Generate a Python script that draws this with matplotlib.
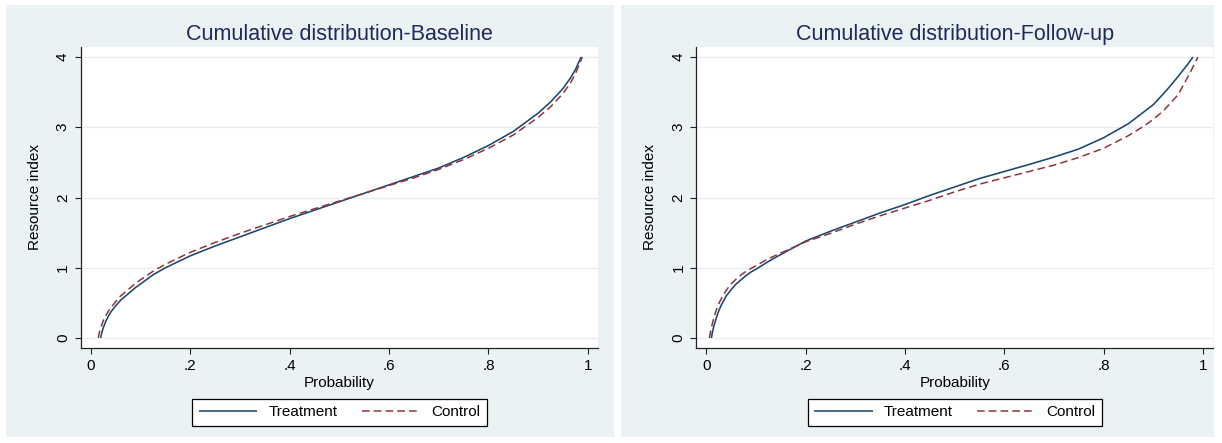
import matplotlib
matplotlib.use("Agg")
import matplotlib.pyplot as plt
from matplotlib.patches import Rectangle

# ---------------- data ----------------
titles = ["Cumulative distribution-Baseline", "Cumulative distribution-Follow-up"]
series_names = ["Treatment", "Control"]
x_label = "Probability"
y_label = "Resource index"
x_ticks = [0, 0.2, 0.4, 0.6, 0.8, 1.0]
x_tick_labels = ["0", ".2", ".4", ".6", ".8", "1"]
y_ticks = [0, 1, 2, 3, 4]
y_tick_labels = ["0", "1", "2", "3", "4"]

# Baseline - Treatment
base_treat_p = [0.0195, 0.022, 0.025, 0.03, 0.035, 0.04, 0.05, 0.06, 0.07, 0.08, 0.09, 0.10,
                0.125, 0.15, 0.2, 0.25, 0.3, 0.35, 0.4, 0.45, 0.5, 0.55, 0.6, 0.65, 0.7,
                0.75, 0.8, 0.85, 0.9, 0.925, 0.95, 0.965, 0.975, 0.9866]
base_treat_y = [0.0, 0.08, 0.15, 0.24, 0.31, 0.37, 0.46, 0.54, 0.60, 0.66, 0.72, 0.77,
                0.90, 1.00, 1.17, 1.31, 1.44, 1.57, 1.70, 1.82, 1.94, 2.06, 2.18, 2.30, 2.42,
                2.57, 2.74, 2.94, 3.20, 3.36, 3.55, 3.70, 3.82, 4.0]
# Baseline - Control
base_ctrl_p = [0.0148, 0.017, 0.02, 0.025, 0.03, 0.035, 0.04, 0.05, 0.06, 0.07, 0.08, 0.09,
               0.10, 0.125, 0.15, 0.2, 0.25, 0.3, 0.35, 0.4, 0.45, 0.5, 0.55, 0.6, 0.65,
               0.7, 0.75, 0.8, 0.85, 0.9, 0.925, 0.95, 0.965, 0.975, 0.989]
base_ctrl_y = [0.0, 0.08, 0.15, 0.25, 0.32, 0.38, 0.43, 0.52, 0.60, 0.66, 0.72, 0.78,
               0.83, 0.95, 1.05, 1.22, 1.36, 1.49, 1.61, 1.73, 1.84, 1.95, 2.06, 2.17, 2.28,
               2.40, 2.54, 2.70, 2.89, 3.14, 3.29, 3.48, 3.63, 3.76, 4.0]
# Follow-up - Treatment
fu_treat_p = [0.010, 0.012, 0.015, 0.02, 0.025, 0.03, 0.04, 0.05, 0.06, 0.07, 0.08, 0.09,
              0.10, 0.125, 0.15, 0.2, 0.25, 0.3, 0.35, 0.4, 0.45, 0.5, 0.55, 0.6, 0.65,
              0.7, 0.75, 0.8, 0.85, 0.9, 0.925, 0.95, 0.96, 0.97, 0.98]
fu_treat_y = [0.0, 0.08, 0.17, 0.29, 0.39, 0.47, 0.60, 0.69, 0.77, 0.83, 0.89, 0.94,
              0.98, 1.09, 1.19, 1.38, 1.52, 1.65, 1.78, 1.90, 2.03, 2.15, 2.27, 2.37, 2.47,
              2.575, 2.69, 2.85, 3.05, 3.32, 3.51, 3.72, 3.81, 3.90, 4.0]
# Follow-up - Control
fu_ctrl_p = [0.006, 0.008, 0.01, 0.015, 0.02, 0.025, 0.03, 0.04, 0.05, 0.06, 0.07, 0.08,
             0.09, 0.10, 0.125, 0.15, 0.2, 0.25, 0.3, 0.35, 0.4, 0.45, 0.5, 0.55, 0.6,
             0.65, 0.7, 0.75, 0.8, 0.85, 0.88, 0.9, 0.92, 0.95, 0.974, 0.99]
fu_ctrl_y = [0.0, 0.08, 0.15, 0.29, 0.40, 0.49, 0.56, 0.68, 0.77, 0.84, 0.90, 0.95,
             0.99, 1.03, 1.13, 1.21, 1.37, 1.49, 1.62, 1.74, 1.85, 1.96, 2.08, 2.19, 2.28,
             2.37, 2.46, 2.57, 2.70, 2.88, 3.01, 3.11, 3.23, 3.46, 3.77, 4.0]

panels = [
    [(base_treat_p, base_treat_y), (base_ctrl_p, base_ctrl_y)],
    [(fu_treat_p, fu_treat_y), (fu_ctrl_p, fu_ctrl_y)],
]

# ---------------- style ----------------
plt.rcParams['font.family'] = ['Liberation Sans', 'DejaVu Sans']
BG = '#EAF2F3'
GRID = '#E6EEF0'
NAVY = '#1A476F'
MAROON = '#90353B'
TITLE_C = '#1c2a5c'
AXC = '#222222'

W, H = 1222, 443
fig = plt.figure(figsize=(W / 100, H / 100), dpi=100)

# graph-region backgrounds (pixels)
for x0, x1 in [(6, 614), (621, 1214)]:
    fig.patches.append(Rectangle((x0 / W, (H - 437) / H), (x1 - x0) / W, (437 - 5) / H,
                                 transform=fig.transFigure, facecolor=BG,
                                 edgecolor='none', zorder=-10))

axes_px = [(81, 598), (696.5, 1213)]
top_px, bot_px = 47, 348

for i, ((xl, xr), title, series) in enumerate(zip(axes_px, titles, panels)):
    ax = fig.add_axes([xl / W, (H - bot_px) / H, (xr - xl) / W, (bot_px - top_px) / H])
    ax.set_zorder(1)
    ax.set_facecolor('white')
    (tp, ty), (cp, cy) = series
    l1, = ax.plot(tp, ty, color=NAVY, lw=1.15, solid_capstyle='butt',
                  solid_joinstyle='round', label=series_names[0], zorder=3)
    l2, = ax.plot(cp, cy, color=MAROON, lw=1.1, linestyle=(0, (5, 2.7)),
                  label=series_names[1], zorder=3)
    ax.set_xlim(-0.020, 1.0205)
    ax.set_ylim(-0.142, 4.142)
    ax.set_xticks(x_ticks)
    ax.set_xticklabels(x_tick_labels)
    ax.set_yticks(y_ticks)
    ax.set_yticklabels(y_tick_labels, rotation=90, va='center')
    ax.grid(axis='y', color=GRID, lw=1.0, zorder=0)
    ax.grid(axis='x', visible=False)
    ax.set_axisbelow(True)
    for s in ['top', 'right']:
        ax.spines[s].set_visible(False)
    for s in ['left', 'bottom']:
        ax.spines[s].set_color(AXC)
        ax.spines[s].set_linewidth(0.9)
    ax.tick_params(axis='both', direction='out', length=4, width=0.8, color=AXC,
                   labelsize=11, labelcolor='black')
    ax.tick_params(axis='x', pad=4)
    ax.tick_params(axis='y', pad=4)
    ax.set_xlabel(x_label, fontsize=11, labelpad=2)
    ax.set_ylabel(y_label, fontsize=11, labelpad=10)
    ax.set_title(title, fontsize=15.5, color=TITLE_C, pad=5)

    cx = (xl + xr) / 2
    leg = ax.legend(handles=[l1, l2], loc='center', ncol=2,
                    bbox_to_anchor=(cx / W, (H - 412.5) / H), bbox_transform=fig.transFigure,
                    fontsize=11, handlelength=3.8, handletextpad=0.72, columnspacing=1.6,
                    borderpad=0.45, frameon=True, fancybox=False, framealpha=1)
    fr = leg.get_frame()
    fr.set_edgecolor('black')
    fr.set_linewidth(0.9)
    fr.set_facecolor('white')

fig.savefig('out.png', dpi=100)
